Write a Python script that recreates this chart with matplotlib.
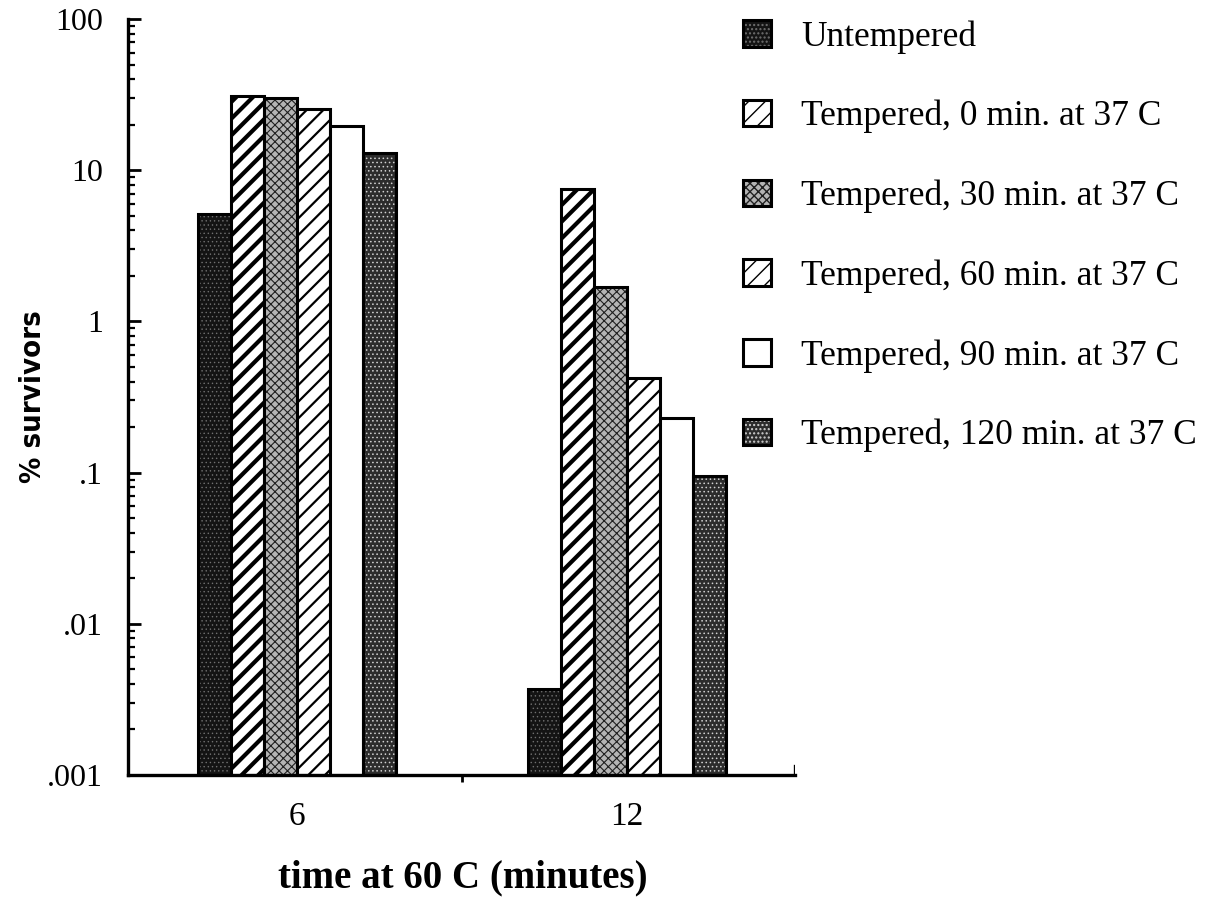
import numpy as np
import matplotlib
matplotlib.use("Agg")
import matplotlib.pyplot as plt
from matplotlib.ticker import FixedLocator, LogLocator, NullFormatter

plt.rcParams['font.family'] = ['Liberation Serif', 'DejaVu Serif']

groups = ['6', '12']
series = ['Untempered',
          'Tempered, 0 min. at 37 C',
          'Tempered, 30 min. at 37 C',
          'Tempered, 60 min. at 37 C',
          'Tempered, 90 min. at 37 C',
          'Tempered, 120 min. at 37 C']
untempered = [5.1, 0.0037]
temp_0 = [31, 7.5]
temp_30 = [30, 1.7]
temp_60 = [25.5, 0.42]
temp_90 = [19.5, 0.23]
temp_120 = [13, 0.095]
values = [untempered, temp_0, temp_30, temp_60, temp_90, temp_120]

yticks = [0.001, 0.01, 0.1, 1, 10, 100]
ytick_labels = ['.001', '.01', '.1', '1', '10', '100']

# (face colour, hatch, hatch colour, hatch width) per series
styles = [
    ('#141414', '....', '#707070', 0.5),
    ('white', '//', 'black', 3.0),
    ('#b4b4b4', 'xxxx', '#202020', 0.8),
    ('white', '//', 'black', 1.6),
    ('white', None, 'black', 1.0),
    ('#2c2c2c', '....', '#d0d0d0', 0.6),
]

ymin = 0.001
width = 0.1
x = np.arange(len(groups))
offsets = (np.arange(len(series)) - (len(series) - 1) / 2) * width

fig = plt.figure(figsize=(12.13, 8.97), dpi=100)
ax = fig.add_axes([128 / 1213, 1 - 775 / 897, (795 - 128) / 1213, (775 - 19) / 897])
ax.set_yscale('log')

handles = []
for vals, off, (fc, hatch, hc, hw) in zip(values, offsets, styles):
    h = np.array(vals) - ymin
    fill = ax.bar(x + off, h, width, bottom=ymin, color=fc, linewidth=0)
    parts = [fill.patches[0]]
    if hatch:
        with plt.rc_context({'hatch.linewidth': hw}):
            hb = ax.bar(x + off, h, width, bottom=ymin, facecolor='none',
                        edgecolor=hc, hatch=hatch, linewidth=0)
        for p in hb.patches:
            if hasattr(p, 'set_hatch_linewidth'):
                p.set_hatch_linewidth(hw)
        parts.append(hb.patches[0])
    ob = ax.bar(x + off, h, width, bottom=ymin, facecolor='none',
                edgecolor='black', linewidth=2.2)
    parts.append(ob.patches[0])
    handles.append(tuple(parts))

ax.set_xlim(-0.512, 1.509)
ax.set_ylim(ymin, 100)

for s in ['top', 'right']:
    ax.spines[s].set_visible(False)
for s in ['left', 'bottom']:
    ax.spines[s].set_linewidth(2.4)

ax.yaxis.set_major_locator(FixedLocator(yticks))
ax.set_yticklabels(ytick_labels)
ax.yaxis.set_minor_locator(LogLocator(base=10, subs=np.arange(2, 10)))
ax.yaxis.set_minor_formatter(NullFormatter())
ax.tick_params(axis='y', which='major', direction='in', length=9, width=2,
               labelsize=23, pad=18)
ax.tick_params(axis='y', which='minor', direction='in', length=5, width=1.6)

ax.set_xticks(x)
ax.set_xticklabels(groups)
ax.set_xticks([0.5], minor=True)
ax.tick_params(axis='x', which='major', length=0, labelsize=24, pad=19)
ax.tick_params(axis='x', which='minor', direction='out', length=5, width=2)
ax.axvline(1.509, ymin=0, ymax=0.012, color='black', linewidth=2.4)

ax.set_xlabel('time at 60 C (minutes)', fontsize=28, fontweight='bold')
ax.xaxis.set_label_coords(0.502, -0.112)
ax.set_ylabel('% survivors', fontsize=21, fontweight='bold',
              family=['DejaVu Sans'], fontstretch='condensed')
ax.yaxis.set_label_coords(-0.122, 0.5)

fig.legend(handles, series, loc='upper left', bbox_to_anchor=(729 / 1213, 1 - 6 / 897),
           frameon=False, fontsize=25.5, handlelength=0.78, handleheight=0.78,
           labelspacing=1.3, handletextpad=0.86, borderaxespad=0)

fig.savefig('out.png', dpi=100)
